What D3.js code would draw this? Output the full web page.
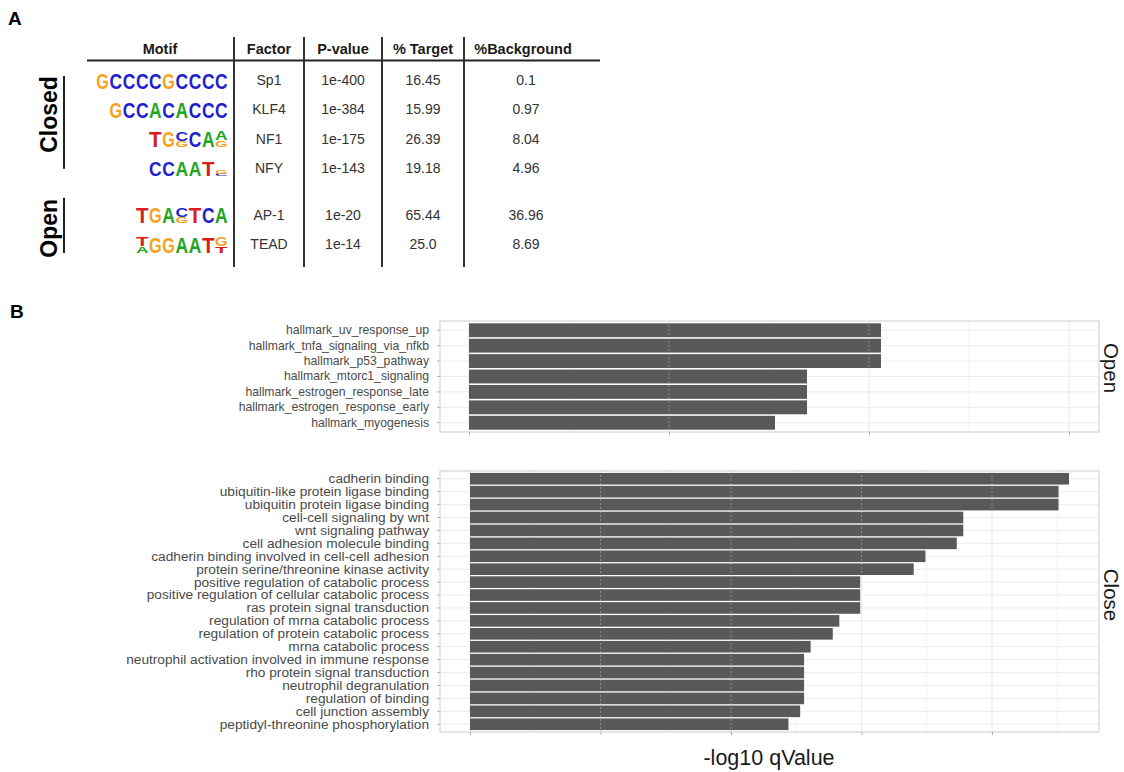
<!DOCTYPE html>
<html>
<head>
<meta charset="utf-8">
<script src="https://cdn.jsdelivr.net/npm/d3@7"></script>
<style>
  body { margin: 0; background: #fff; }
  svg text { font-family: "Liberation Sans", Arial, Helvetica, sans-serif; }
</style>
</head>
<body>
<div id="chart"></div>
<script>
// ---- panel A: motif table ----
var tableHeaders = ["Motif", "Factor", "P-value", "% Target", "%Background"];
var motifFactors = ["Sp1", "KLF4", "NF1", "NFY", "AP-1", "TEAD"];
var motifGroups = ["Closed", "Closed", "Closed", "Closed", "Open", "Open"];
var pValues = ["1e-400", "1e-384", "1e-175", "1e-143", "1e-20", "1e-14"];
var pctTarget = ["16.45", "15.99", "26.39", "19.18", "65.44", "25.0"];
var pctBackground = ["0.1", "0.97", "8.04", "4.96", "36.96", "8.69"];
// each position is a stack of letters, top letter first
var motifLogos = [
    ["G", "C", "C", "C", "C", "G", "C", "C", "C", "C"],
    ["G", "C", "C", "A", "C", "A", "C", "C", "C"],
    ["T", "G", "CG", "C", "A", "AG"],
    ["C", "C", "A", "A", "T", "GC"],
    ["T", "G", "A", "CG", "T", "C", "A"],
    ["TA", "G", "G", "A", "A", "T", "GT"]
];
var logoHeights = [
    [1, 1, 1, 1, 1, 1, 1, 1, 1, 1],
    [1, 1, 1, 1, 1, 1, 1, 1, 1],
    [1, 1, 0.9, 1, 1, 1],
    [0.9, 0.9, 0.9, 0.9, 0.9, 0.35],
    [1, 1, 1, 0.9, 1, 1, 1],
    [1, 1, 1, 1, 1, 1, 1]
];

// ---- panel B: enrichment bars ----
var openTerms = ["hallmark_uv_response_up", "hallmark_tnfa_signaling_via_nfkb", "hallmark_p53_pathway",
    "hallmark_mtorc1_signaling", "hallmark_estrogen_response_late", "hallmark_estrogen_response_early",
    "hallmark_myogenesis"];
var openValues = [2.06, 2.06, 2.06, 1.69, 1.69, 1.69, 1.53];
var closeTerms = ["cadherin binding", "ubiquitin-like protein ligase binding", "ubiquitin protein ligase binding",
    "cell-cell signaling by wnt", "wnt signaling pathway", "cell adhesion molecule binding",
    "cadherin binding involved in cell-cell adhesion", "protein serine/threonine kinase activity",
    "positive regulation of catabolic process", "positive regulation of cellular catabolic process",
    "ras protein signal transduction", "regulation of mrna catabolic process",
    "regulation of protein catabolic process", "mrna catabolic process",
    "neutrophil activation involved in immune response", "rho protein signal transduction",
    "neutrophil degranulation", "regulation of binding", "cell junction assembly",
    "peptidyl-threonine phosphorylation"];
var closeValues = [4.59, 4.51, 4.51, 3.78, 3.78, 3.73, 3.49, 3.40, 2.99, 2.99, 2.99, 2.83, 2.78, 2.61,
    2.56, 2.56, 2.56, 2.56, 2.53, 2.44];
var openTicks = [0, 1, 2, 3];
var closeTicks = [0, 1, 2, 3, 4];
var axisTitle = "-log10 qValue";

var letterColor = { A: "#20a620", C: "#1f1fd0", G: "#f6a21c", T: "#d62020" };

var svg = d3.select("#chart").append("svg")
    .attr("width", 1124)
    .attr("height", 772);

svg.append("text").text("A")
    .attr("x", 8).attr("y", 25)
    .attr("font-size", 19).attr("font-weight", "bold");

// column layout
var colLines = [234, 304, 382, 464];
var colCenters = [160, 269, 343, 423, 523];

// rows: open group sits a bit lower than the closed block
var rowScale = d3.scaleLinear().domain([0, 5.6]).range([80, 244]);
function rowY(i) {
    return rowScale(i + (motifGroups[i] == "Open" ? 0.6 : 0));
}

svg.selectAll(".hdr")
    .data(tableHeaders)
    .enter().append("text")
    .attr("class", "hdr")
    .attr("x", (d, i) => colCenters[i])
    .attr("y", 54)
    .attr("text-anchor", "middle")
    .attr("font-size", 14.5)
    .attr("font-weight", "bold")
    .attr("fill", "#1a1a1a")
    .text(d => d);

svg.append("line")
    .attr("x1", 87).attr("x2", 600)
    .attr("y1", 60.5).attr("y2", 60.5)
    .attr("stroke", "#222").attr("stroke-width", 2);

svg.selectAll(".vline")
    .data(colLines)
    .enter().append("line")
    .attr("class", "vline")
    .attr("x1", d => d).attr("x2", d => d)
    .attr("y1", 37).attr("y2", 267)
    .attr("stroke", "#333").attr("stroke-width", 2);

var cellCols = [motifFactors, pValues, pctTarget, pctBackground];
cellCols.forEach(function (col, c) {
    svg.append("g").selectAll("text")
        .data(col)
        .enter().append("text")
        .attr("x", colCenters[c + 1] + (c == 3 ? 3 : 0))
        .attr("y", (d, i) => rowY(i))
        .attr("dy", "0.36em")
        .attr("text-anchor", "middle")
        .attr("font-size", 14)
        .attr("fill", "#333")
        .text(d => d);
});

// group brackets + rotated labels
var bracketPad = { Closed: [4, 1, -8], Open: [17, 9, 3] };
["Closed", "Open"].forEach(function (g) {
    var idx = motifGroups.map((m, i) => m == g ? i : -1).filter(i => i >= 0);
    var y0 = rowY(idx[0]) - bracketPad[g][0], y1 = rowY(idx[idx.length - 1]) + bracketPad[g][1];
    svg.append("line")
        .attr("x1", 64).attr("x2", 64)
        .attr("y1", y0).attr("y2", y1)
        .attr("stroke", "#222").attr("stroke-width", 2);
    svg.append("text")
        .attr("transform", "translate(57," + ((y0 + y1) / 2 + bracketPad[g][2]) + ") rotate(-90)")
        .attr("text-anchor", "middle")
        .attr("font-size", 23)
        .attr("font-weight", "bold")
        .text(g);
});

// sequence logos, drawn as stretched letters
var letterW = 13.2, logoRight = 228, logoH = 16.5;
motifLogos.forEach(function (logo, r) {
    var base = rowY(r) + 8.5;
    var g = svg.append("g");
    logo.forEach(function (stack, p) {
        var left = logoRight - (logo.length - p) * letterW;
        var total = logoH * logoHeights[r][p];
        var shares = stack.length == 1 ? [1] : stack.length == 2 ? [0.6, 0.4] : stack.split("").map(() => 1 / stack.length);
        var bottom = base;
        // draw from bottom letter upward
        for (var k = stack.length - 1; k >= 0; k--) {
            var h = total * shares[k];
            g.append("text")
                .attr("transform", "translate(" + (left + 0.3) + "," + bottom + ") scale(1," + (h / 14.6) + ")")
                .attr("font-size", 20)
                .attr("font-weight", "bold")
                .attr("textLength", letterW - 0.6)
                .attr("lengthAdjust", "spacingAndGlyphs")
                .attr("fill", letterColor[stack[k]])
                .text(stack[k]);
            bottom -= h;
        }
    });
});

// ---- panel B ----
svg.append("text").text("B")
    .attr("x", 10).attr("y", 318)
    .attr("font-size", 19).attr("font-weight", "bold");

var panelX = [440, 1099];

function drawPanel(terms, values, ticks, xDomain, yRange, labelSize, strip, stripY, showTitle) {
    var x = d3.scaleLinear().domain(xDomain).range(panelX);
    var y = d3.scaleBand().domain(terms).range(yRange)
        .paddingInner(0.1).paddingOuter(0.15);
    var g = svg.append("g");

    var minor = d3.range(ticks[0] - 0.5, ticks[ticks.length - 1] + 1, 1)
        .filter(v => x(v) > panelX[0] && x(v) < panelX[1]);
    g.selectAll(".minor").data(minor).enter().append("line")
        .attr("x1", d => x(d)).attr("x2", d => x(d))
        .attr("y1", yRange[0]).attr("y2", yRange[1])
        .attr("stroke", "#f3f3f3").attr("stroke-width", 1);
    g.selectAll(".gx").data(ticks).enter().append("line")
        .attr("x1", d => x(d)).attr("x2", d => x(d))
        .attr("y1", yRange[0]).attr("y2", yRange[1])
        .attr("stroke", "#e6e6e6").attr("stroke-width", 1);
    g.selectAll(".gy").data(terms).enter().append("line")
        .attr("x1", panelX[0]).attr("x2", panelX[1])
        .attr("y1", d => y(d) + y.bandwidth() / 2).attr("y2", d => y(d) + y.bandwidth() / 2)
        .attr("stroke", "#ececec").attr("stroke-width", 1);

    g.selectAll(".bar").data(terms).enter().append("rect")
        .attr("x", x(0))
        .attr("y", d => y(d))
        .attr("width", (d, i) => x(values[i]) - x(0))
        .attr("height", y.bandwidth())
        .attr("fill", "#595959");

    // grid shows faintly through the bars
    g.selectAll(".gover").data(ticks.slice(1)).enter().append("line")
        .attr("x1", d => x(d)).attr("x2", d => x(d))
        .attr("y1", yRange[0]).attr("y2", yRange[1])
        .attr("stroke", "#fff").attr("stroke-opacity", 0.3)
        .attr("stroke-dasharray", "2,2");

    g.append("rect")
        .attr("x", panelX[0]).attr("y", yRange[0])
        .attr("width", panelX[1] - panelX[0]).attr("height", yRange[1] - yRange[0])
        .attr("fill", "none").attr("stroke", "#d4d4d4").attr("stroke-width", 1.2);

    // axes: ticks only, no tick labels
    var xAxis = d3.axisBottom(x).tickValues(ticks).tickSize(3).tickFormat("");
    g.append("g")
        .attr("transform", "translate(0," + yRange[1] + ")")
        .call(xAxis)
        .call(a => a.select(".domain").remove())
        .call(a => a.selectAll("line").attr("stroke", "#b0b0b0"));

    var yAxis = d3.axisLeft(y).tickSize(3).tickPadding(8);
    g.append("g")
        .attr("transform", "translate(" + panelX[0] + ",0)")
        .call(yAxis)
        .call(a => a.select(".domain").remove())
        .call(a => a.selectAll("line").attr("stroke", "#b0b0b0"))
        .call(a => a.selectAll("text")
            .attr("font-size", labelSize)
            .attr("fill", "#4a4a4a")
            .attr("font-family", "Liberation Sans, Arial, sans-serif"));

    g.append("text")
        .attr("transform", "translate(1104," + stripY + ") rotate(90)")
        .attr("text-anchor", "middle")
        .attr("font-size", 20.5)
        .attr("fill", "#1a1a1a")
        .text(strip);

    if (showTitle) {
        g.append("text")
            .attr("x", 769).attr("y", 765)
            .attr("text-anchor", "middle")
            .attr("font-size", 21.5)
            .attr("fill", "#1a1a1a")
            .text(axisTitle);
    }
}

drawPanel(openTerms, openValues, openTicks, [-0.145, 3.15], [321, 432], 12.2, "Open", 368, false);
drawPanel(closeTerms, closeValues, closeTicks, [-0.23, 4.82], [471, 732], 13.7, "Close", 595, true);
</script>
</body>
</html>
